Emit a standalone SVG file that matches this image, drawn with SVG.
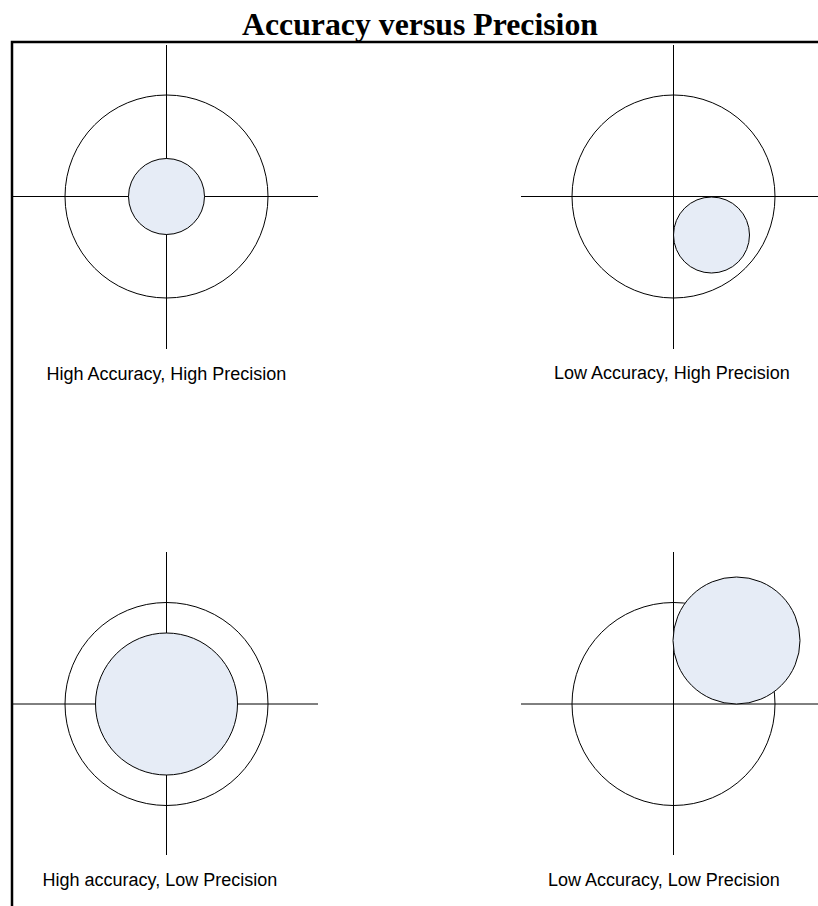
<svg xmlns="http://www.w3.org/2000/svg" width="818" height="906" viewBox="0 0 818 906">
<style>
.ax{stroke:#000;stroke-width:1;fill:none}
.ring{stroke:#000;stroke-width:1;fill:none}
.spot{stroke:#000;stroke-width:1;fill:#e6ecf6}
.lbl{font-family:"Liberation Sans",Arial,sans-serif;font-size:18px;fill:#000}
.title{font-family:"Liberation Serif","Times New Roman",serif;font-size:31px;font-weight:bold;fill:#000}
.frame{stroke:#000;stroke-width:2.5;fill:none}
</style>
<rect width="818" height="906" fill="#fff"/>
<text class="title" x="242" y="35" textLength="356" lengthAdjust="spacingAndGlyphs">Accuracy versus Precision</text>
<path class="frame" d="M12 906 V42 H818"/>
<g id="hahp">
<line class="ax" x1="166.5" y1="45" x2="166.5" y2="349"/>
<line class="ax" x1="13" y1="196.5" x2="318" y2="196.5"/>
<circle class="ring" cx="166.5" cy="196.5" r="101.5"/>
<circle class="spot" cx="166.5" cy="196.5" r="38"/>
<text class="lbl" x="46.5" y="380">High Accuracy, High Precision</text>
</g>
<g id="lahp">
<line class="ax" x1="673.5" y1="45" x2="673.5" y2="349"/>
<line class="ax" x1="521" y1="196.5" x2="818" y2="196.5"/>
<circle class="ring" cx="673.5" cy="196.5" r="101.5"/>
<circle class="spot" cx="711.5" cy="235" r="38"/>
<text class="lbl" x="554" y="379">Low Accuracy, High Precision</text>
</g>
<g id="halp">
<line class="ax" x1="166.5" y1="552" x2="166.5" y2="855"/>
<line class="ax" x1="13" y1="704" x2="318" y2="704"/>
<circle class="ring" cx="166.5" cy="704" r="101.5"/>
<circle class="spot" cx="166.5" cy="704" r="71"/>
<text class="lbl" x="42.5" y="886">High accuracy, Low Precision</text>
</g>
<g id="lalp">
<line class="ax" x1="673.5" y1="552" x2="673.5" y2="855"/>
<line class="ax" x1="521" y1="704" x2="818" y2="704"/>
<circle class="ring" cx="673.5" cy="704" r="101.5"/>
<circle class="spot" cx="736.5" cy="640.5" r="63.5"/>
<text class="lbl" x="548" y="886">Low Accuracy, Low Precision</text>
</g>
<g id="connectors"></g>
</svg>
